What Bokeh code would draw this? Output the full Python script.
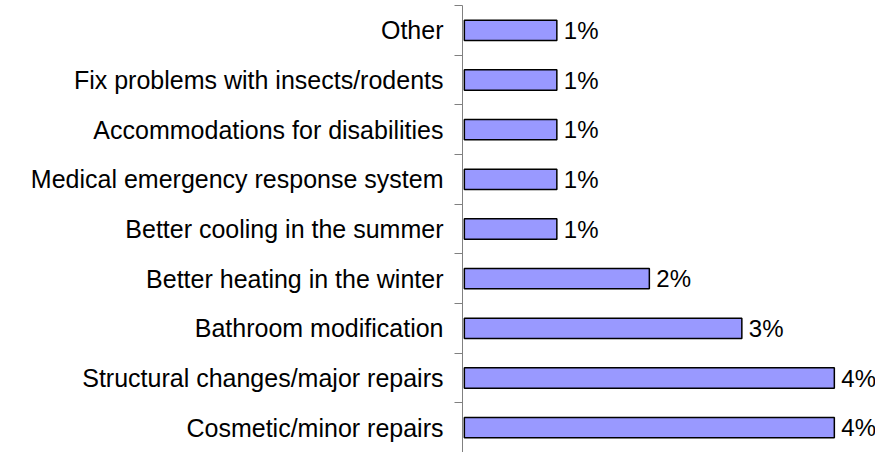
from bokeh.plotting import figure
from bokeh.models import Range1d, FixedTicker
from bokeh.embed import file_html
from bokeh.resources import INLINE
from bokeh.core.properties import value

# Data (bottom to top)
categories = [
    "Cosmetic/minor repairs",
    "Structural changes/major repairs",
    "Bathroom modification",
    "Better heating in the winter",
    "Better cooling in the summer",
    "Medical emergency response system",
    "Accommodations for disabilities",
    "Fix problems with insects/rodents",
    "Other",
]
values = [4, 4, 3, 2, 1, 1, 1, 1, 1]
value_labels = ["4%", "4%", "3%", "2%", "1%", "1%", "1%", "1%", "1%"]

n = len(categories)
centers = [i + 0.5 for i in range(n)]
bounds = [float(i) for i in range(n + 1)]

FONT = "Liberation Sans"

p = figure(width=875, height=452, output_backend="svg", toolbar_location=None,
           x_range=Range1d(-0.02, 4.445), y_range=Range1d(0, n))
p.min_border = 0
p.min_border_left = 462
p.min_border_top = 5
p.outline_line_color = None
p.xgrid.visible = False
p.ygrid.visible = False
p.xaxis.visible = False

yax = p.yaxis[0]
yax.ticker = FixedTicker(ticks=centers, minor_ticks=bounds)
yax.major_label_overrides = {c: lab for c, lab in zip(centers, categories)}
yax.major_tick_out = 0
yax.major_tick_in = 0
yax.minor_tick_out = 8
yax.minor_tick_in = 0
yax.minor_tick_line_color = "#808080"
yax.axis_line_color = "#808080"
yax.major_label_standoff = 11
yax.major_label_text_font = FONT
yax.major_label_text_font_size = "25px"
yax.major_label_text_color = "black"

p.hbar(y=centers, left=0, right=values, height=0.41,
       fill_color="#9999FF", line_color="black", line_width=1.5)

p.text(x=values, y=centers, text=value_labels, x_offset=7,
       text_align="left", text_baseline="middle",
       text_font=value(FONT), text_font_size="24px", text_color="black")

open("out.html", "w").write(file_html(p, INLINE))
